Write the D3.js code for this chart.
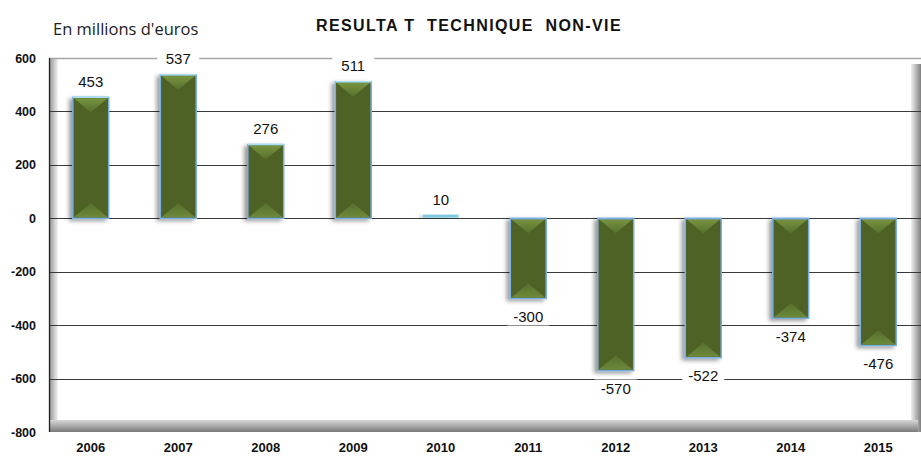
<!DOCTYPE html>
<head>
<script src="https://d3js.org/d3.v7.min.js"></script>
<style>
body { margin: 0; background: #fff; }
svg { display: block; font-family: Arial, "Liberation Sans", sans-serif; }
</style>
</head>
<body>
<svg></svg>
<script>
// data
var years = ["2006", "2007", "2008", "2009", "2010", "2011", "2012", "2013", "2014", "2015"];
var values = [453, 537, 276, 511, 10, -300, -570, -522, -374, -476];
var yTicks = [600, 400, 200, 0, -200, -400, -600, -800];

var width = 921, height = 456;
var svg = d3.select("svg").attr("width", width).attr("height", height);

var x = d3.scaleBand().domain(years).range([47, 922]).paddingInner(0.59).paddingOuter(0.295);
var y = d3.scaleLinear().domain([-800, 600]).range([432, 58]);

var defs = svg.append("defs");
var f = defs.append("filter").attr("id", "shadow").attr("x", "-50%").attr("width", "200%");
f.append("feDropShadow").attr("dx", -3).attr("dy", 2).attr("stdDeviation", 2)
  .attr("flood-color", "#000").attr("flood-opacity", 0.4);

var gl = defs.append("linearGradient").attr("id", "wallL").attr("x1", 0).attr("x2", 1);
gl.append("stop").attr("offset", 0).attr("stop-color", "#8f8f8f");
gl.append("stop").attr("offset", 1).attr("stop-color", "#f4f4f4");
var gf = defs.append("linearGradient").attr("id", "floor").attr("x1", 0).attr("x2", 0).attr("y1", 0).attr("y2", 1);
gf.append("stop").attr("offset", 0).attr("stop-color", "#d8d8d8");
gf.append("stop").attr("offset", 1).attr("stop-color", "#7a7a7a");
var gr = defs.append("linearGradient").attr("id", "wallR").attr("x1", 0).attr("x2", 1);
gr.append("stop").attr("offset", 0).attr("stop-color", "#f0f0f0");
gr.append("stop").attr("offset", 1).attr("stop-color", "#808080");
var cap = defs.append("linearGradient").attr("id", "cap").attr("x1", 0).attr("x2", 0).attr("y1", 0).attr("y2", 1);
cap.append("stop").attr("offset", 0).attr("stop-color", "#78943e");
cap.append("stop").attr("offset", 1).attr("stop-color", "#56702e");
var capB = defs.append("linearGradient").attr("id", "capB").attr("x1", 0).attr("x2", 0).attr("y1", 0).attr("y2", 1);
capB.append("stop").attr("offset", 0).attr("stop-color", "#56702e");
capB.append("stop").attr("offset", 1).attr("stop-color", "#6d893a");

// frame: side walls and floor
svg.append("rect").attr("x", 49).attr("y", 58).attr("width", 9).attr("height", 374).attr("fill", "url(#wallL)");
svg.append("rect").attr("x", 911).attr("y", 64).attr("width", 10).attr("height", 368).attr("fill", "url(#wallR)");
svg.append("rect").attr("x", 50).attr("y", 420).attr("width", 868).attr("height", 12).attr("fill", "url(#floor)");

// gridlines
svg.append("g").selectAll("line").data(yTicks.filter(function(d) { return d > -800; })).enter().append("line")
  .attr("x1", 49).attr("x2", 921)
  .attr("y1", function(d) { return Math.round(y(d)) + 0.5; })
  .attr("y2", function(d) { return Math.round(y(d)) + 0.5; })
  .attr("stroke", function(d) { return d == 600 ? "#a6a6a6" : "#3a3a3a"; })
  .attr("stroke-width", function(d) { return d == 600 ? 1.5 : 1.2; });

// axis line
svg.append("line").attr("x1", 49.5).attr("x2", 49.5).attr("y1", 58).attr("y2", 432)
  .attr("stroke", "#222").attr("stroke-width", 1.3);

// y tick labels
svg.append("g").selectAll("text").data(yTicks).enter().append("text")
  .attr("x", 36).attr("y", function(d) { return y(d) + 4.5; })
  .attr("text-anchor", "end").attr("font-size", 12.5).attr("font-weight", "bold")
  .attr("fill", "#111").text(function(d) { return d; });

// x labels
svg.append("g").selectAll("text").data(years).enter().append("text")
  .attr("x", function(d) { return x(d) + x.bandwidth() / 2; }).attr("y", 452)
  .attr("text-anchor", "middle").attr("font-size", 13).attr("font-weight", "bold")
  .attr("fill", "#111").text(function(d) { return d; });

// bars
var bars = svg.append("g").selectAll("g").data(years).enter().append("g");
bars.each(function(d, i) {
  var g = d3.select(this);
  var v = values[i];
  var x0 = x(d), w = x.bandwidth();
  var top = y(Math.max(v, 0)), bot = y(Math.min(v, 0));
  var h = bot - top;
  if (h < 4) {
    g.append("rect").attr("x", x0).attr("y", top - 1).attr("width", w).attr("height", Math.max(h, 3))
      .attr("fill", "#7ecbe0").attr("filter", "url(#shadow)");
    return;
  }
  g.append("rect").attr("x", x0).attr("y", top).attr("width", w).attr("height", h)
    .attr("fill", "#4f6228").attr("stroke", "#79aee0").attr("stroke-width", 1.5)
    .attr("filter", "url(#shadow)");
  var c = Math.min(15, h / 2);
  g.append("path").attr("d", "M" + (x0 + 1) + "," + (top + 1) + "L" + (x0 + w - 1) + "," + (top + 1) +
      "L" + (x0 + w / 2) + "," + (top + c) + "Z").attr("fill", "url(#cap)");
  g.append("path").attr("d", "M" + (x0 + 1) + "," + (bot - 1) + "L" + (x0 + w - 1) + "," + (bot - 1) +
      "L" + (x0 + w / 2) + "," + (bot - c) + "Z").attr("fill", "url(#capB)");
  g.append("line").attr("x1", x0).attr("x2", x0 + w).attr("y1", v >= 0 ? top : top + 0.5).attr("y2", v >= 0 ? top : top + 0.5)
    .attr("stroke", v >= 0 ? "#a8e0f0" : "#79aee0").attr("stroke-width", 1.5);
});

// value labels with white boxes
var labels = svg.append("g").selectAll("g").data(years).enter().append("g")
  .attr("transform", function(d, i) {
    var v = values[i];
    var cx = x(d) + x.bandwidth() / 2;
    var cy = v >= 0 ? y(v) - 16 : y(v) + 18;
    return "translate(" + cx + "," + cy + ")";
  });
labels.append("rect").attr("x", -21).attr("y", -9).attr("width", 42).attr("height", 18).attr("fill", "#fff");
labels.append("text").attr("y", 5.5).attr("text-anchor", "middle").attr("font-size", 15)
  .attr("fill", "#111").text(function(d, i) { return values[i]; });

// titles
svg.append("text").attr("x", 53).attr("y", 35).attr("font-size", 16.5)
  .attr("font-family", "'Open Sans', 'DejaVu Sans', sans-serif").attr("fill", "#222")
  .text("En millions d'euros");
svg.append("text").attr("x", 469).attr("y", 31).attr("text-anchor", "middle")
  .attr("font-size", 16).attr("font-weight", "bold").attr("fill", "#111").attr("letter-spacing", 1.4)
  .style("white-space", "pre").text("RESULTA T  TECHNIQUE  NON-VIE");
</script>
</body>
